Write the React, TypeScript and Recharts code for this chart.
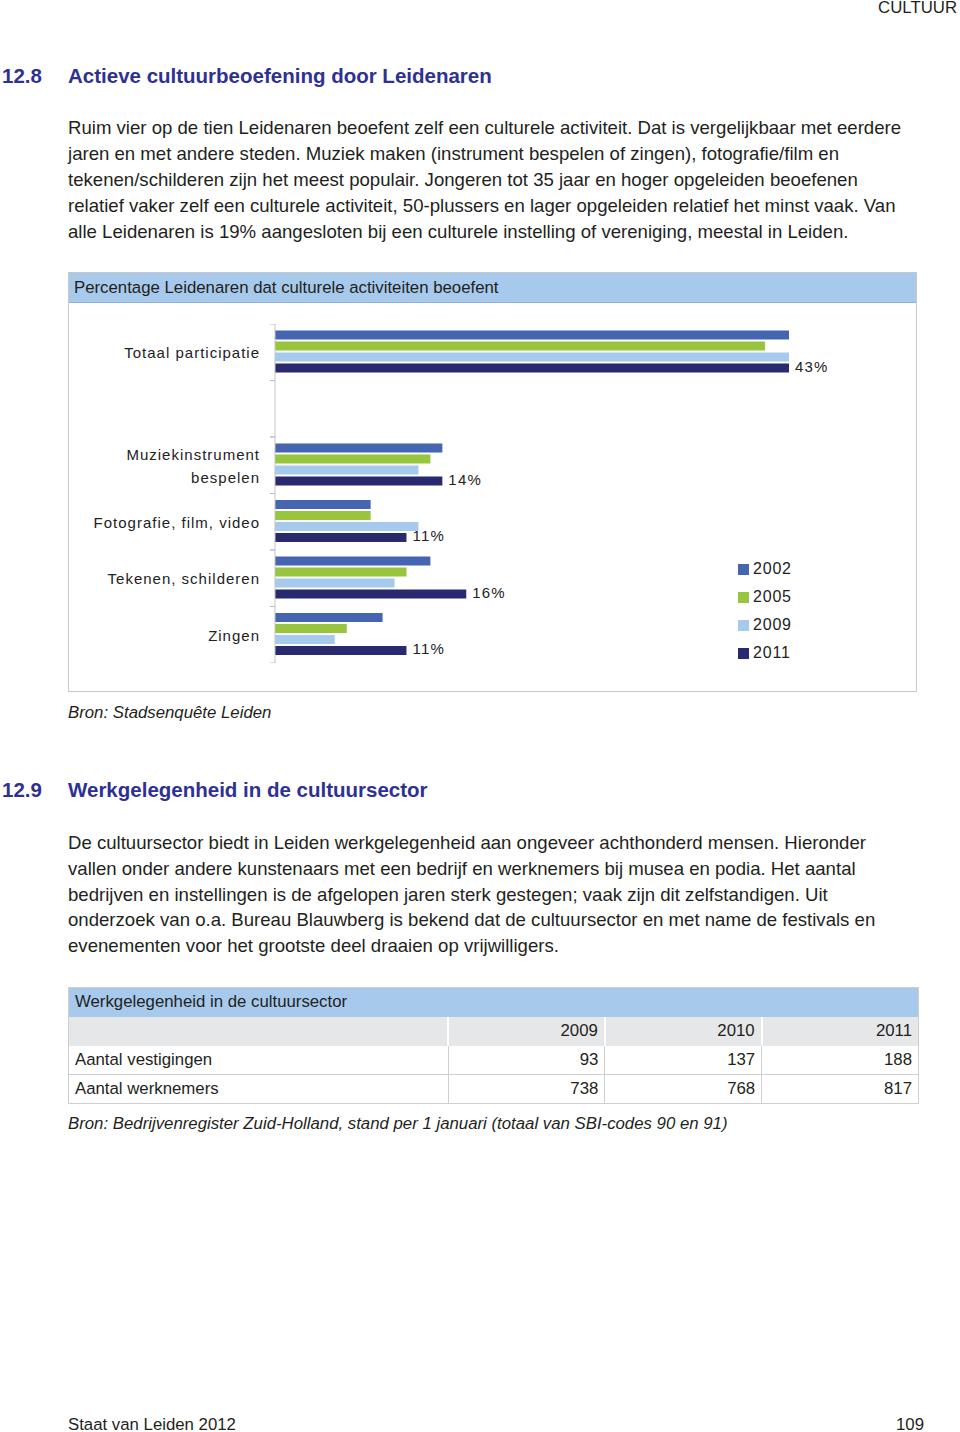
import { BarChart, Bar, XAxis, YAxis, LabelList } from 'recharts';

const FONT = '"Liberation Sans", Arial, sans-serif';
const TITLE_BLUE = '#2e3192';
const TEXT = '#231f20';

// chart data ('' is the empty spacer row under Totaal participatie)
const categories = ['Totaal participatie', '', 'Muziekinstrument\nbespelen', 'Fotografie, film, video', 'Tekenen, schilderen', 'Zingen'];
const years = ['2002', '2005', '2009', '2011'];
const colors = ['#4565b1', '#97c53d', '#a6caec', '#28296f'];
const v2002 = [43, null, 14, 8, 13, 9];
const v2005 = [41, null, 13, 8, 11, 6];
const v2009 = [43, null, 12, 12, 10, 5];
const v2011 = [43, null, 14, 11, 16, 11];
const series = [v2002, v2005, v2009, v2011];

const rows = categories.map((name, i) => {
  const r: any = { name };
  years.forEach((y, j) => { r[y] = series[j][i]; });
  return r;
});

// table data
const tableYears = ['2009', '2010', '2011'];
const vestigingen = [93, 137, 188];
const werknemers = [738, 768, 817];

const para1 = [
  'Ruim vier op de tien Leidenaren beoefent zelf een culturele activiteit. Dat is vergelijkbaar met eerdere',
  'jaren en met andere steden. Muziek maken (instrument bespelen of zingen), fotografie/film en',
  'tekenen/schilderen zijn het meest populair. Jongeren tot 35 jaar en hoger opgeleiden beoefenen',
  'relatief vaker zelf een culturele activiteit, 50-plussers en lager opgeleiden relatief het minst vaak. Van',
  'alle Leidenaren is 19% aangesloten bij een culturele instelling of vereniging, meestal in Leiden.',
];
const para2 = [
  'De cultuursector biedt in Leiden werkgelegenheid aan ongeveer achthonderd mensen. Hieronder',
  'vallen onder andere kunstenaars met een bedrijf en werknemers bij musea en podia. Het aantal',
  'bedrijven en instellingen is de afgelopen jaren sterk gestegen; vaak zijn dit zelfstandigen. Uit',
  'onderzoek van o.a. Bureau Blauwberg is bekend dat de cultuursector en met name de festivals en',
  'evenementen voor het grootste deel draaien op vrijwilligers.',
];

const CatTick = (props: any) => {
  const { x, y, payload } = props;
  const half = payload?.offset ?? 28;
  const lines = String(payload.value).split('\n');
  const lh = 23;
  const y0 = y - ((lines.length - 1) * lh) / 2;
  return (
    <g>
      <line x1={x - 5} x2={x} y1={y - half} y2={y - half} stroke="#bdbdbd" />
      <line x1={x - 5} x2={x} y1={y + half} y2={y + half} stroke="#bdbdbd" />
      <text x={x - 15} y={y0} textAnchor="end" dominantBaseline="central"
        fontFamily={FONT} fontSize={15} letterSpacing={1} fill="#222">
        {lines.map((l, i) => (
          <tspan key={i} x={x - 15} dy={i === 0 ? 0 : lh}>{l}</tspan>
        ))}
      </text>
    </g>
  );
};

const PctLabel = (props: any) => {
  const { x, y, width, height, value } = props;
  if (value == null) return null;
  return (
    <text x={x + width + 6} y={y + height / 2 - 2} dominantBaseline="central"
      fontFamily={FONT} fontSize={15} letterSpacing={1.2} fill="#222">{value}%</text>
  );
};

const abs = (left: number, top: number, extra: any = {}) => ({ position: 'absolute' as const, left, top, ...extra });

const BODY = 18.6;
const TITLE = 20.5;
const SMALL = 16.8;

export default function App() {
  const cellR = { textAlign: 'right' as const, padding: '0 6px', borderLeft: '1px solid #cfcfcf' };
  const title = { fontSize: TITLE, lineHeight: '24px', fontWeight: 'bold', color: TITLE_BLUE };
  return (
    <div style={{ position: 'absolute', left: 0, top: 0, width: 960, height: 1432, background: '#fff', fontFamily: FONT, color: TEXT }}>
      <div style={{ position: 'absolute', right: 3, top: -1, fontSize: SMALL, lineHeight: '18px' }}>CULTUUR</div>

      <div style={abs(2, 64, title)}>12.8</div>
      <div style={abs(68, 64, title)}>Actieve cultuurbeoefening door Leidenaren</div>

      <div style={abs(68, 115, { fontSize: BODY, lineHeight: '26px' })}>
        {para1.map((l) => <div key={l} style={{ whiteSpace: 'nowrap' }}>{l}</div>)}
      </div>

      <div style={abs(68, 272, { width: 847, height: 418, border: '1px solid #c8c8c8' })}>
        <div style={{ height: 29, background: '#a6c9ec', borderBottom: '1px solid #8fb3d6', fontSize: SMALL, lineHeight: '29px', paddingLeft: 5 }}>
          Percentage Leidenaren dat culturele activiteiten beoefent
        </div>
      </div>
      <div style={abs(70, 324)}>
        <BarChart layout="vertical" width={800} height={339} data={rows}
          margin={{ top: 0, right: 81, bottom: 0, left: 0 }} barCategoryGap={6.5} barGap={2}>
          <XAxis type="number" domain={[0, 43]} hide />
          <YAxis type="category" dataKey="name" width={205} tick={<CatTick />} tickLine={false}
            tickSize={0} tickMargin={0} axisLine={{ stroke: '#c4c4c4' }} interval={0} />
          {years.map((y, i) => (
            <Bar key={y} dataKey={y} fill={colors[i]} isAnimationActive={false}>
              {i === 3 && <LabelList dataKey={y} content={<PctLabel />} />}
            </Bar>
          ))}
        </BarChart>
      </div>
      <div style={abs(738, 555)}>
        {years.map((y, i) => (
          <div key={y} style={{ display: 'flex', alignItems: 'center', height: 28, fontSize: 16, letterSpacing: 0.8, color: '#222' }}>
            <span style={{ width: 11, height: 11, background: colors[i], marginRight: 4, display: 'inline-block' }} />
            {y}
          </div>
        ))}
      </div>

      <div style={abs(68, 703, { fontSize: SMALL, lineHeight: '20px', fontStyle: 'italic' })}>Bron: Stadsenquête Leiden</div>

      <div style={abs(2, 778, title)}>12.9</div>
      <div style={abs(68, 778, title)}>Werkgelegenheid in de cultuursector</div>

      <div style={abs(68, 830, { fontSize: BODY, lineHeight: '25.8px' })}>
        {para2.map((l) => <div key={l} style={{ whiteSpace: 'nowrap' }}>{l}</div>)}
      </div>

      <table style={{ ...abs(68, 987), width: 851, borderCollapse: 'collapse', fontSize: SMALL, border: '1px solid #cfcfcf' }}>
        <colgroup>
          <col style={{ width: 380 }} /><col style={{ width: 157 }} /><col style={{ width: 157 }} /><col style={{ width: 157 }} />
        </colgroup>
        <tbody>
          <tr style={{ height: 29, background: '#a6c9ec' }}>
            <td colSpan={4} style={{ padding: '0 6px' }}>Werkgelegenheid in de cultuursector</td>
          </tr>
          <tr style={{ height: 29, background: '#e6e7e8' }}>
            <td style={{ padding: 0 }} />
            {tableYears.map((y) => <td key={y} style={{ ...cellR, borderLeft: '2px solid #fff' }}>{y}</td>)}
          </tr>
          <tr style={{ height: 29, borderBottom: '1px solid #cfcfcf' }}>
            <td style={{ padding: '0 6px' }}>Aantal vestigingen</td>
            {vestigingen.map((v, i) => <td key={i} style={cellR}>{v}</td>)}
          </tr>
          <tr style={{ height: 29 }}>
            <td style={{ padding: '0 6px' }}>Aantal werknemers</td>
            {werknemers.map((v, i) => <td key={i} style={cellR}>{v}</td>)}
          </tr>
        </tbody>
      </table>

      <div style={abs(68, 1114, { fontSize: SMALL, lineHeight: '20px', fontStyle: 'italic', whiteSpace: 'nowrap' })}>
        Bron: Bedrijvenregister Zuid-Holland, stand per 1 januari (totaal van SBI-codes 90 en 91)
      </div>

      <div style={abs(68, 1415, { fontSize: SMALL, lineHeight: '20px' })}>Staat van Leiden 2012</div>
      <div style={{ position: 'absolute', right: 36, top: 1415, fontSize: SMALL, lineHeight: '20px' }}>109</div>
    </div>
  );
}
